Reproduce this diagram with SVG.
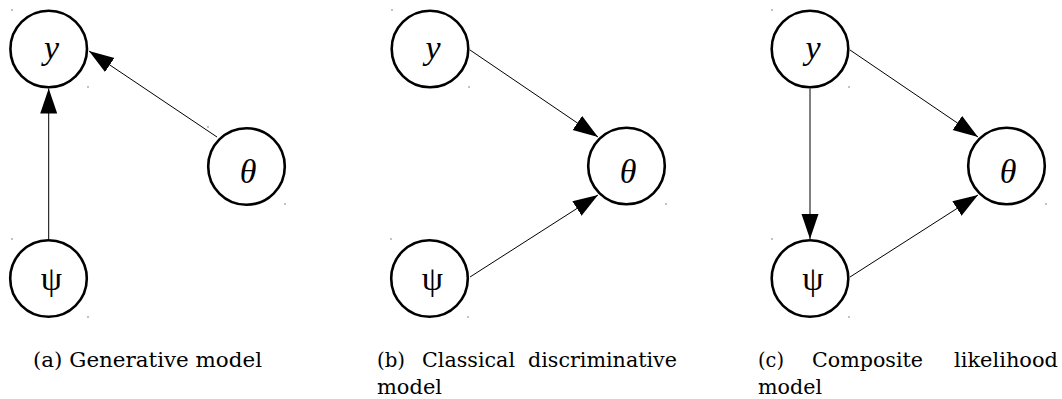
<svg xmlns="http://www.w3.org/2000/svg" width="1062" height="399" viewBox="0 0 1062 399">
<defs>
<marker id="ah" markerUnits="userSpaceOnUse" markerWidth="26" markerHeight="18" refX="25" refY="8.5" orient="auto">
<path d="M0,0 L25,8.5 L0,17 Z" fill="#000"/>
</marker>
</defs>
<g id="connectors" stroke="#000" stroke-width="1">
<line x1="48.7" y1="239" x2="48.7" y2="88.5" marker-end="url(#ah)"/>
<line x1="217" y1="137" x2="89" y2="51" marker-end="url(#ah)"/>
<line x1="470" y1="50" x2="598" y2="137" marker-end="url(#ah)"/>
<line x1="470" y1="277" x2="598" y2="195" marker-end="url(#ah)"/>
<line x1="850" y1="50" x2="978" y2="137" marker-end="url(#ah)"/>
<line x1="850" y1="277" x2="978" y2="195" marker-end="url(#ah)"/>
<line x1="810" y1="88.5" x2="810" y2="239" marker-end="url(#ah)"/>
</g>
<g id="a-y"><circle cx="48.7" cy="49" r="38.3" fill="#fff" stroke="#000" stroke-width="2.6"/><text x="51.5" y="59" font-family="Liberation Serif" font-size="34" font-style="italic" text-anchor="middle">y</text></g>
<g id="a-theta"><circle cx="246.5" cy="166.5" r="38.3" fill="#fff" stroke="#000" stroke-width="2.6"/><text x="248" y="183" font-family="Liberation Serif" font-size="34" font-style="italic" text-anchor="middle">θ</text></g>
<g id="a-psi"><circle cx="48.5" cy="278.5" r="38.3" fill="#fff" stroke="#000" stroke-width="2.6"/><text x="51.5" y="290" font-family="Liberation Serif" font-size="34" text-anchor="middle">ψ</text></g>
<g id="b-y"><circle cx="430" cy="49" r="38.3" fill="#fff" stroke="#000" stroke-width="2.6"/><text x="433" y="59" font-family="Liberation Serif" font-size="34" font-style="italic" text-anchor="middle">y</text></g>
<g id="b-theta"><circle cx="626.5" cy="166" r="38.3" fill="#fff" stroke="#000" stroke-width="2.6"/><text x="628" y="182.5" font-family="Liberation Serif" font-size="34" font-style="italic" text-anchor="middle">θ</text></g>
<g id="b-psi"><circle cx="429.5" cy="278.5" r="38.3" fill="#fff" stroke="#000" stroke-width="2.6"/><text x="432.5" y="290" font-family="Liberation Serif" font-size="34" text-anchor="middle">ψ</text></g>
<g id="c-y"><circle cx="810" cy="49" r="38.3" fill="#fff" stroke="#000" stroke-width="2.6"/><text x="813" y="59" font-family="Liberation Serif" font-size="34" font-style="italic" text-anchor="middle">y</text></g>
<g id="c-theta"><circle cx="1006.5" cy="166" r="38.3" fill="#fff" stroke="#000" stroke-width="2.6"/><text x="1008" y="182.5" font-family="Liberation Serif" font-size="34" font-style="italic" text-anchor="middle">θ</text></g>
<g id="c-psi"><circle cx="810" cy="278.5" r="38.3" fill="#fff" stroke="#000" stroke-width="2.6"/><text x="813" y="290" font-family="Liberation Serif" font-size="34" text-anchor="middle">ψ</text></g>
<g id="ticks" fill="#888">
<rect x="11.5" y="9" width="1" height="2"/><rect x="87.5" y="86" width="1" height="2"/>
<rect x="207.5" y="126" width="1" height="2"/><rect x="284.5" y="203" width="1" height="2"/>
<rect x="11.5" y="238" width="1" height="2"/><rect x="87.5" y="316" width="1" height="2"/>
<rect x="391.5" y="9" width="1" height="2"/><rect x="468.5" y="86" width="1" height="2"/>
<rect x="665.5" y="203" width="1" height="2"/>
<rect x="390.5" y="238" width="1" height="2"/><rect x="467.5" y="316" width="1" height="2"/>
<rect x="771.5" y="9" width="1" height="2"/><rect x="848.5" y="86" width="1" height="2"/>
<rect x="1045.5" y="203" width="1" height="2"/>
<rect x="771.5" y="238" width="1" height="2"/><rect x="848.5" y="316" width="1" height="2"/>
</g>
<g id="captions">
<text x="33" y="367" font-family="DejaVu Serif" font-size="20.5" textLength="229" lengthAdjust="spacingAndGlyphs">(a) Generative model</text>
<text x="377" y="367" font-family="DejaVu Serif" font-size="20.5" textLength="28" lengthAdjust="spacingAndGlyphs">(b)</text>
<text x="422" y="367" font-family="DejaVu Serif" font-size="20.5" textLength="93" lengthAdjust="spacingAndGlyphs">Classical</text>
<text x="528" y="367" font-family="DejaVu Serif" font-size="20.5" textLength="149" lengthAdjust="spacingAndGlyphs">discriminative</text>
<text x="377" y="394" font-family="DejaVu Serif" font-size="20.5" textLength="65" lengthAdjust="spacingAndGlyphs">model</text>
<text x="758" y="367" font-family="DejaVu Serif" font-size="20.5" textLength="26" lengthAdjust="spacingAndGlyphs">(c)</text>
<text x="812" y="367" font-family="DejaVu Serif" font-size="20.5" textLength="111" lengthAdjust="spacingAndGlyphs">Composite</text>
<text x="954" y="367" font-family="DejaVu Serif" font-size="20.5" textLength="104" lengthAdjust="spacingAndGlyphs">likelihood</text>
<text x="758" y="394" font-family="DejaVu Serif" font-size="20.5" textLength="64" lengthAdjust="spacingAndGlyphs">model</text>
</g>
</svg>
